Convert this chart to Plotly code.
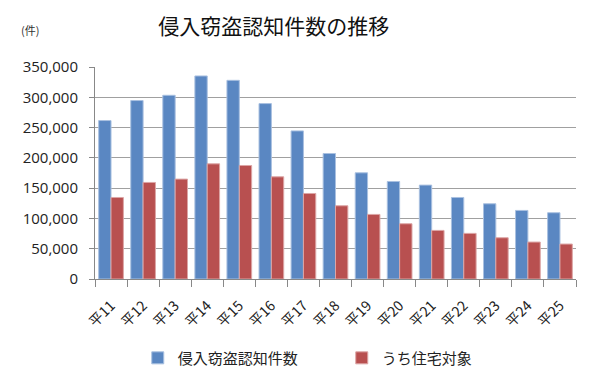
import plotly.graph_objects as go

categories = ["平11", "平12", "平13", "平14", "平15", "平16", "平17", "平18",
              "平19", "平20", "平21", "平22", "平23", "平24", "平25"]
burglary = [261600, 294600, 303300, 335200, 328000, 289600, 244500, 207200,
            175300, 161000, 155000, 134600, 124200, 113200, 109400]
residential = [134600, 159400, 164900, 190100, 187400, 168700, 141200, 120900,
               106600, 91200, 80200, 75300, 68100, 61000, 57700]
series_names = ["侵入窃盗認知件数", "うち住宅対象"]
y_ticks = [0, 50000, 100000, 150000, 200000, 250000, 300000, 350000]

font_cjk = "Noto Sans CJK JP"

fig = go.Figure()
fig.add_trace(go.Bar(x=categories, y=burglary, name=series_names[0],
                     marker=dict(color="#5a87c2", line=dict(color="#a9c0e0", width=1))))
fig.add_trace(go.Bar(x=categories, y=residential, name=series_names[1],
                     marker=dict(color="#b85050", line=dict(color="#dca5a5", width=1))))

fig.update_layout(
    width=600, height=386,
    margin=dict(l=87, r=32, t=59, b=115, autoexpand=False),
    paper_bgcolor="white", plot_bgcolor="white",
    barmode="group", bargap=0.23, bargroupgap=0,
    font=dict(family=font_cjk, color="#222"),
    title=dict(text="侵入窃盗認知件数の推移", x=0.443, xanchor="center",
               y=0.951, yanchor="middle",
               font=dict(family=font_cjk, size=21, color="#111")),
    legend=dict(orientation="h", x=0.513, xanchor="center",
                y=0.093, yref="container", yanchor="middle",
                font=dict(family=font_cjk, size=15, color="#222"),
                traceorder="normal", entrywidth=159),
    showlegend=True,
)
fig.update_xaxes(
    type="category", tickangle=-45, tickson="boundaries",
    ticks="outside", ticklen=7, tickcolor="#888", tickwidth=1,
    showline=True, linecolor="#888", linewidth=1,
    ticklabelstandoff=12,
    tickfont=dict(family=font_cjk, size=14, color="#222"),
)
fig.update_yaxes(
    range=[0, 350000], tickvals=y_ticks, tickformat=",",
    showgrid=True, gridcolor="#a0a0a0", gridwidth=1,
    showline=True, linecolor="#888", linewidth=1,
    ticks="outside", ticklen=5, tickcolor="#888",
    ticklabelstandoff=8,
    tickfont=dict(family="Open Sans", size=15, color="#222"),
    zeroline=False,
)
fig.add_annotation(text="(件)", xref="paper", yref="paper", x=-0.158, y=1.175,
                   xanchor="left", yanchor="middle", showarrow=False,
                   font=dict(family=font_cjk, size=11, color="#333"))

fig.write_html("out.html")
